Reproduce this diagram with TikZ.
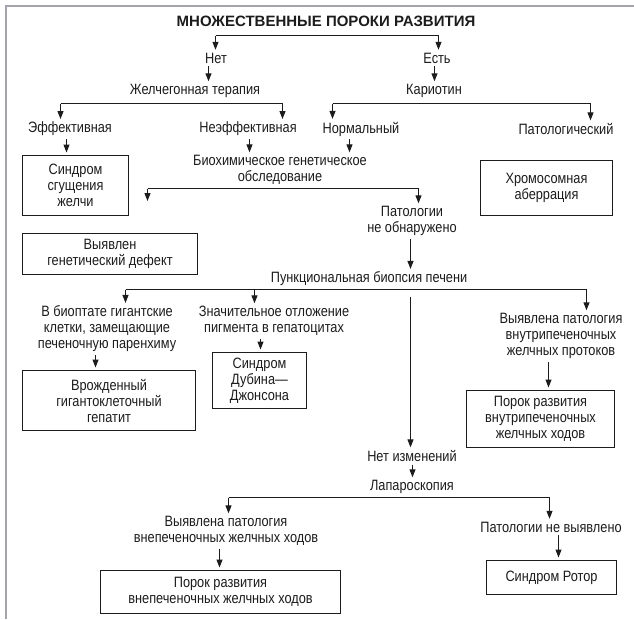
\documentclass[tikz,border=0pt]{standalone}
\usepackage{fontspec}
\setmainfont{Liberation Sans}[FakeStretch=0.85]
\newfontfamily\titlefont{Liberation Sans}
\usetikzlibrary{arrows.meta}

\definecolor{ink}{HTML}{1C1C1C}
\definecolor{rim}{HTML}{A4A4AC}

\tikzset{
  lbl/.style={inner sep=0pt, outer sep=3pt, align=center, text=ink,
    font=\fontsize{15}{16}\selectfont},
  box/.style={lbl, draw=ink, line width=1pt, inner sep=2pt},
  link/.style={draw=ink, line width=1pt},
  arr/.style={link, -{Triangle[length=8pt,width=6pt]}},
  frame/.style={draw=rim, line width=1.6pt},
}

\begin{document}
\begin{tikzpicture}[x=1pt, y=-1pt]
\useasboundingbox (0,0) rectangle (634,619);
\draw[frame] (6,619) -- (6,6) -- (634,6);

% upper part
\node[lbl, font=\titlefont\fontsize{15}{16}\selectfont\bfseries] (title) at (326,21) {МНОЖЕСТВЕННЫЕ ПОРОКИ РАЗВИТИЯ};
\node[lbl] (net) at (216,58) {Нет};
\node[lbl] (est) at (437,58) {Есть};
\node[lbl] (zhel) at (195,91) {Желчегонная терапия};
\node[lbl] (kario) at (434,91) {Кариотин};
\node[lbl] (eff) at (70,129) {Эффективная};
\node[lbl] (neeff) at (248,129) {Неэффективная};
\node[lbl] (norm) at (361,129) {Нормальный};
\node[lbl] (patol) at (566,129) {Патологический};
\node[box, minimum width=106pt, minimum height=60pt] (sgush) at (75.5,185.5) {Синдром\\сгущения\\желчи};
\node[lbl] (biohim) at (280,170) {Биохимическое генетическое\\обследование};
\node[box, minimum width=132pt, minimum height=55pt] (hromo) at (546.5,188) {Хромосомная\\аберрация};
\node[lbl] (patolne) at (412,221) {Патологии\\не обнаружено};
\node[box, minimum width=175pt, minimum height=41pt] (defekt) at (110,253.5) {Выявлен\\генетический дефект};

% biopsy
\node[lbl] (punk) at (369,279) {Пункциональная биопсия печени};
\node[lbl] (biopt) at (107,329) {В биоптате гигантские\\клетки, замещающие\\печеночную паренхиму};
\node[lbl] (znach) at (274,321) {Значительное отложение\\пигмента в гепатоцитах};
\node[lbl] (vnutri) at (561,336) {Выявлена патология\\внутрипеченочных\\желчных протоков};
\node[box, minimum width=173pt, minimum height=60pt] (vrozhd) at (109,400.5) {Врожденный\\гигантоклеточный\\гепатит};
\node[box, minimum width=94pt, minimum height=56pt] (dubin) at (259.5,380.5) {Синдром\\Дубина—\\Джонсона};
\node[box, minimum width=148pt, minimum height=57pt] (porokvn) at (540.5,419) {Порок развития\\внутрипеченочных\\желчных ходов};

% lower part
\node[lbl] (netizm) at (412,456) {Нет изменений};
\node[lbl] (lapar) at (412,487) {Лапароскопия};
\node[lbl] (vne) at (226,531) {Выявлена патология\\внепеченочных желчных ходов};
\node[lbl] (patolnev) at (551,527) {Патологии не выявлено};
\node[box, minimum width=240pt, minimum height=43pt] (porokvne) at (220.5,592) {Порок развития\\внепеченочных желчных ходов};
\node[box, minimum width=130pt, minimum height=34pt] (rotor) at (551.5,577.5) {Синдром Ротор};

% brackets
\coordinate (b1l) at (215.5,35.5); \coordinate (b1r) at (438.5,35.5);
\draw[link] (b1l) -- (b1r);
\draw[arr] (b1l) -- (b1l |- net.north);
\draw[arr] (b1r) -- (b1r |- est.north);

\coordinate (b2l) at (60.5,103.5); \coordinate (b2r) at (282.5,103.5);
\draw[link] (b2l) -- (b2r);
\draw[arr] (b2l) -- (b2l |- eff.north);
\draw[arr] (b2r) -- (b2r |- neeff.north);

\coordinate (b3l) at (332.5,103.5); \coordinate (b3r) at (590.5,103.5);
\draw[link] (b3l) -- (b3r);
\draw[arr] (b3l) -- (b3l |- norm.north);
\draw[arr] (b3r) -- (b3r |- patol.north);

\coordinate (b4l) at (147.5,188.5); \coordinate (b4r) at (418.5,188.5);
\coordinate (b4end) at (147.5,201);
\draw[link] (b4l) -- (b4r);
\draw[arr] (b4l) -- (b4end);
\draw[arr] (b4r) -- (b4r |- patolne.north);

\coordinate (b5l) at (125.5,289.5); \coordinate (b5m) at (254.5,289.5); \coordinate (b5r) at (586.5,289.5);
\coordinate (b5c) at (410.5,297);
\draw[link] (b5l) -- (b5r);
\draw[arr] (b5l) -- (b5l |- biopt.north);
\draw[arr] (b5m) -- (b5m |- znach.north);
\draw[arr] (b5r) -- (b5r |- vnutri.north);
\draw[arr] (b5c) -- (b5c |- netizm.north);

\coordinate (b6l) at (228.5,497.5); \coordinate (b6r) at (549.5,497.5);
\draw[link] (b6l) -- (b6r);
\draw[arr] (b6l) -- (b6l |- vne.north);
\draw[arr] (b6r) -- (b6r |- patolnev.north);

% short arrows
\draw[arr] ([xshift=-7.5pt]net.south) -- ([xshift=-7.5pt]net.south |- zhel.north);
\draw[arr] ([xshift=-2.5pt]est.south) -- ([xshift=-2.5pt]est.south |- kario.north);
\draw[arr] ([xshift=-3.5pt]eff.south) -- ([xshift=-3.5pt]eff.south |- sgush.north);
\draw[arr] ([xshift=1.5pt]neeff.south) -- ([xshift=1.5pt]neeff.south |- biohim.north);
\draw[arr] ([xshift=-11.5pt]norm.south) -- ([xshift=-11.5pt]norm.south |- biohim.north);
\draw[arr] ([xshift=-1.5pt]patolne.south) -- ([xshift=-1.5pt]patolne.south |- punk.north);
\draw[arr] ([xshift=-11.5pt]biopt.south) -- ([xshift=-11.5pt]biopt.south |- vrozhd.north);
\draw[arr] ([xshift=-13.5pt]znach.south) -- ([xshift=-13.5pt]znach.south |- dubin.north);
\draw[arr] ([xshift=-12.5pt]vnutri.south) -- ([xshift=-12.5pt]vnutri.south |- porokvn.north);
\draw[arr] ([xshift=0.5pt]netizm.south) -- ([xshift=0.5pt]lapar.north);
\draw[arr] ([xshift=-6.5pt]vne.south) -- ([xshift=-6.5pt]vne.south |- porokvne.north);
\draw[arr] ([xshift=7.5pt]patolnev.south) -- ([xshift=7.5pt]patolnev.south |- rotor.north);
\end{tikzpicture}
\end{document}
